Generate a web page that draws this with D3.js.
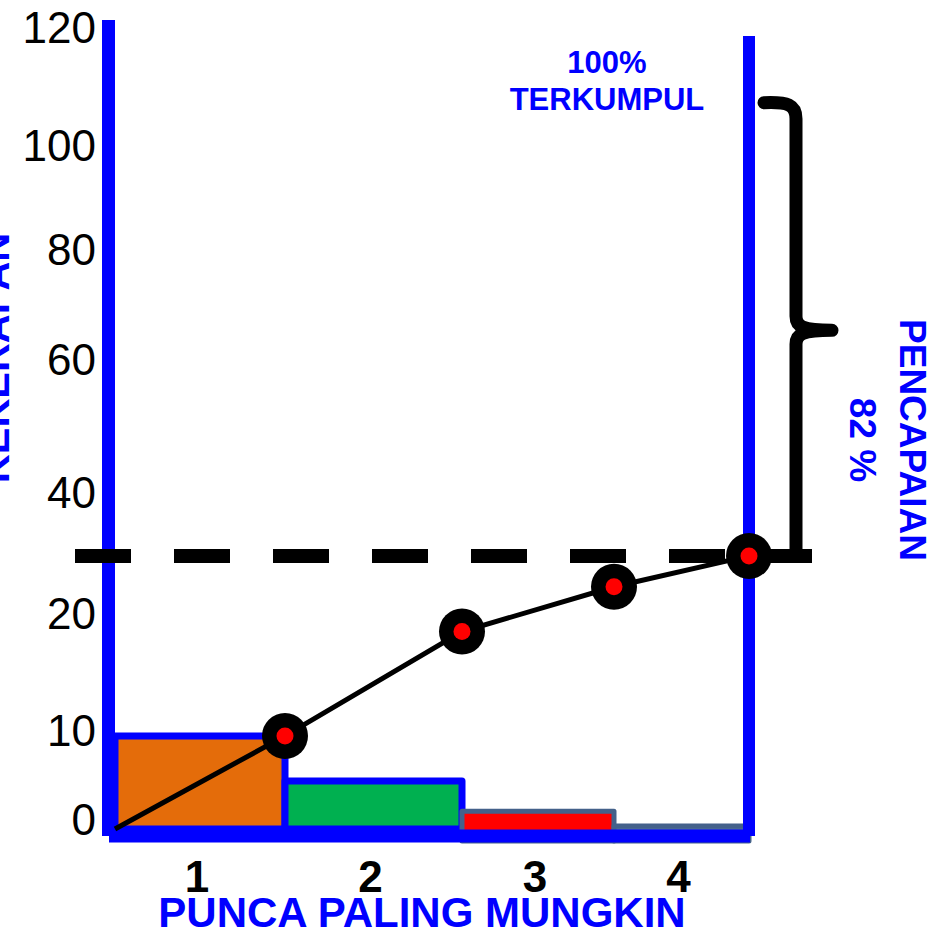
<!DOCTYPE html>
<html>
<head>
<meta charset="utf-8">
<script src="https://cdn.jsdelivr.net/npm/d3@7"></script>
<style>
  html, body { margin: 0; padding: 0; background: #ffffff; }
  svg { display: block; font-family: "Liberation Sans", Arial, sans-serif; }
</style>
</head>
<body>
<script>
// ---- data ----
const categories = ["1", "2", "3", "4"];
const frequencies = [9.5, 4.9, 1.8, 0.3];          // bar heights (KEKERAPAN)
const cumulative = [9.5, 18.5, 24.5, 29.6];         // cumulative line points
const tickValues = [0, 10, 20, 40, 60, 80, 100, 120];
const tickLabels = ["0", "10", "20", "40", "60", "80", "100", "120"];
const targetLevel = 29.6;                           // dashed reference line
const bracketTopLevel = 107;                        // top of the "100%" bracket
const barFills = ["#e46c0a", "#00b050", "#ff0000", "#4f6f9a"];
const barStrokes = ["#0000ff", "#0000ff", "#44618a", "#44618a"];
const xTitle = "PUNCA PALING MUNGKIN";
const yTitle = "KEKERAPAN";
const topNote = ["100%", "TERKUMPUL"];
const sideNote = ["PENCAPAIAN", "82 %"];

// ---- layout ----
const W = 941, H = 933;
const BLUE = "#0000ff";

const svg = d3.select("body").append("svg")
  .attr("width", W).attr("height", H);
svg.append("rect").attr("width", W).attr("height", H).attr("fill", "#fff");

// y scale: polylinear to follow the hand-placed value labels
const y = d3.scaleLinear()
  .domain(tickValues)
  .range([829, 731, 614, 493, 360, 250, 146, 28]);

// x scale: category boundaries
const x = d3.scaleLinear()
  .domain([0, 1, 2, 3, 4])
  .range([115, 285, 462, 614, 749]);

// ---- bars ----
svg.append("g").selectAll("rect")
  .data(frequencies)
  .join("rect")
  .attr("x", (d, i) => x(i))
  .attr("y", d => y(d))
  .attr("width", (d, i) => x(i + 1) - x(i))
  .attr("height", (d, i) => y(0) - y(d) + (i >= 2 ? 12 : 0))
  .attr("fill", (d, i) => barFills[i])
  .attr("stroke", (d, i) => barStrokes[i])
  .attr("stroke-width", (d, i) => i >= 2 ? 5 : 7)
  .attr("stroke-linejoin", "round");

// ---- blue frame lines ----
svg.append("line")
  .attr("x1", 108.5).attr("x2", 108.5)
  .attr("y1", 20).attr("y2", 836)
  .attr("stroke", BLUE).attr("stroke-width", 13);
svg.append("line")
  .attr("x1", 109).attr("x2", x(4) + 1)
  .attr("y1", y(0) + 7).attr("y2", y(0) + 7)
  .attr("stroke", BLUE).attr("stroke-width", 13);
svg.append("line")
  .attr("x1", x(4)).attr("x2", x(4))
  .attr("y1", 36).attr("y2", 836)
  .attr("stroke", BLUE).attr("stroke-width", 12);

// ---- y axis labels ----
const yAxis = d3.axisLeft(y)
  .tickValues(tickValues)
  .tickFormat((d, i) => tickLabels[i])
  .tickSize(0)
  .tickPadding(12);
const ga = svg.append("g")
  .attr("transform", "translate(108,0)")
  .call(yAxis);
ga.select(".domain").remove();
ga.selectAll("text")
  .attr("font-family", "\"Liberation Sans\", Arial, sans-serif")
  .attr("font-size", 44)
  .attr("fill", "#000")
  .attr("dy", d => d === 0 ? "0.12em" : "0.32em");

// ---- dashed target line ----
svg.append("line")
  .attr("x1", 75).attr("x2", 812)
  .attr("y1", y(targetLevel)).attr("y2", y(targetLevel))
  .attr("stroke", "#000").attr("stroke-width", 14)
  .attr("stroke-dasharray", "56,43");

// ---- bracket ----
const bTop = y(bracketTopLevel), bBot = y(targetLevel);
const bx = 796, bMid = (bTop + bBot) / 2;
svg.append("path")
  .attr("d",
    `M764,${bTop - 2} C788,${bTop - 3} ${bx},${bTop} ${bx},${bTop + 14}` +
    ` L${bx},${bMid - 14} C${bx},${bMid - 4} ${bx + 6},${bMid} ${bx + 36},${bMid}` +
    ` M${bx + 36},${bMid} C${bx + 6},${bMid} ${bx},${bMid + 4} ${bx},${bMid + 14}` +
    ` L${bx},${bBot} L770,${bBot}`)
  .attr("fill", "none").attr("stroke", "#000")
  .attr("stroke-width", 13).attr("stroke-linecap", "round")
  .attr("stroke-linejoin", "round");

// ---- cumulative line ----
const pts = [[x(0), y(0)]].concat(cumulative.map((v, i) => [x(i + 1), y(v)]));
svg.append("path")
  .attr("d", d3.line()(pts))
  .attr("fill", "none").attr("stroke", "#000").attr("stroke-width", 5);

const gp = svg.append("g").selectAll("g")
  .data(cumulative)
  .join("g")
  .attr("transform", (d, i) => `translate(${x(i + 1)},${y(d)})`);
gp.append("circle").attr("r", 23).attr("fill", "#000");
gp.append("circle").attr("r", 8.5).attr("fill", "#ff0000");

// ---- category labels ----
svg.append("g").selectAll("text")
  .data(categories)
  .join("text")
  .attr("x", (d, i) => (x(i) + x(i + 1)) / 2 - 3)
  .attr("y", 892)
  .attr("text-anchor", "middle")
  .attr("font-size", 44).attr("font-weight", "bold").attr("fill", "#000")
  .text(d => d);

// ---- titles ----
svg.append("text")
  .attr("x", 422).attr("y", 927)
  .attr("text-anchor", "middle")
  .attr("font-size", 42).attr("font-weight", "bold").attr("fill", BLUE)
  .text(xTitle);

svg.append("text")
  .attr("transform", "translate(9,358) rotate(-90)")
  .attr("text-anchor", "middle")
  .attr("font-size", 40).attr("font-weight", "bold").attr("fill", BLUE)
  .text(yTitle);

svg.append("g").selectAll("text")
  .data(topNote)
  .join("text")
  .attr("x", 607).attr("y", (d, i) => 73 + i * 37)
  .attr("text-anchor", "middle")
  .attr("font-size", 31).attr("font-weight", "bold").attr("fill", BLUE)
  .text(d => d);

svg.append("g").selectAll("text")
  .data(sideNote)
  .join("text")
  .attr("transform", (d, i) => `translate(${900 - i * 50},440) rotate(90)`)
  .attr("text-anchor", "middle")
  .attr("font-size", 37).attr("font-weight", "bold").attr("fill", BLUE)
  .text(d => d);
</script>
</body>
</html>
